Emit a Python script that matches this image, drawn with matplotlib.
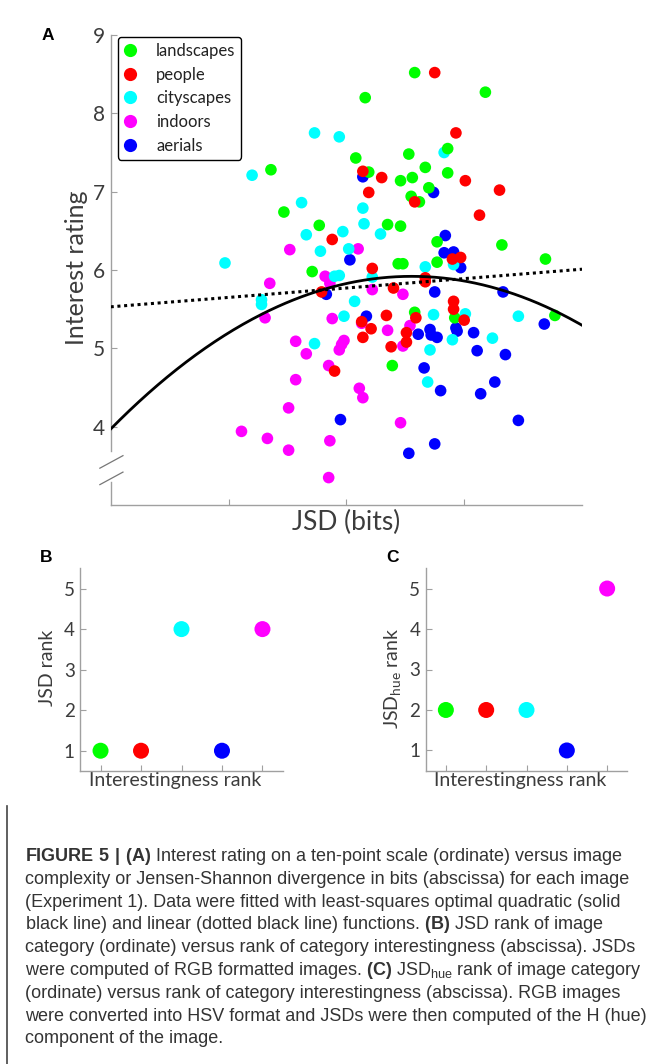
import numpy as np
import matplotlib
matplotlib.use('Agg')
import matplotlib.pyplot as plt
from matplotlib.lines import Line2D

plt.rcParams['font.family'] = ['Lato', 'DejaVu Sans']
plt.rcParams['mathtext.fontset'] = 'custom'
plt.rcParams['mathtext.rm'] = 'Liberation Sans'
plt.rcParams['mathtext.bf'] = 'Liberation Sans:bold'

# ---- panel A data (x in arbitrary JSD units, y = interest rating)
categories = ['landscapes', 'people', 'cityscapes', 'indoors', 'aerials']
cat_colors = ['#00ff00', '#ff0000', '#00ffff', '#ff00ff', '#0000ff']

land_x = [2.58, 2.16, 3.18, 1.36, 2.08, 2.53, 2.86, 2.67, 2.86, 2.19, 2.56, 2.46, 2.70, 2.55, 2.62,
          1.47, 1.77, 2.35, 2.46, 2.77, 3.32, 3.69, 2.44, 2.48, 2.77, 1.71, 2.58, 2.92, 3.77, 2.39]
land_y = [8.52, 8.20, 8.27, 7.28, 7.43, 7.48, 7.55, 7.31, 7.24, 7.25, 7.18, 7.14, 7.05, 6.94, 6.87,
          6.74, 6.57, 6.58, 6.56, 6.36, 6.32, 6.14, 6.08, 6.08, 6.10, 5.98, 5.46, 5.39, 5.42, 4.78]

people_x = [2.75, 2.93, 2.14, 2.30, 3.01, 2.19, 3.30, 2.58, 3.13, 1.88, 2.90, 2.97, 2.22, 1.79, 2.40,
            2.67, 2.67, 2.91, 2.91, 3.00, 2.13, 2.21, 2.34, 2.59, 2.51, 2.51, 2.14, 2.38, 1.90]
people_y = [8.52, 7.75, 7.26, 7.18, 7.14, 6.99, 7.02, 6.87, 6.70, 6.39, 6.14, 6.16, 6.02, 5.72, 5.77,
            5.90, 5.85, 5.60, 5.50, 5.36, 5.34, 5.25, 5.42, 5.39, 5.20, 5.08, 5.14, 5.02, 4.71]

city_x = [1.73, 1.94, 1.20, 2.83, 1.62, 2.14, 2.15, 1.97, 1.66, 2.29, 1.78, 2.02, 0.97, 2.67, 2.91,
          1.90, 1.94, 2.22, 1.28, 1.28, 2.07, 2.74, 3.01, 3.46, 1.98, 3.24, 2.90, 2.71, 1.73, 2.69]
city_y = [7.75, 7.70, 7.21, 7.50, 6.86, 6.79, 6.59, 6.49, 6.45, 6.46, 6.24, 6.27, 6.09, 6.04, 6.07,
          5.92, 5.93, 5.91, 5.62, 5.56, 5.60, 5.43, 5.44, 5.41, 5.41, 5.13, 5.11, 4.98, 5.06, 4.57]

indoor_x = [1.52, 2.10, 1.82, 1.86, 1.35, 2.22, 2.48, 1.31, 1.88, 2.13, 2.35, 2.54, 2.48, 1.57, 1.66,
            1.98, 1.94, 1.96, 1.85, 1.57, 2.11, 2.14, 1.51, 2.46, 1.11, 1.33, 1.51, 1.86, 1.85]
indoor_y = [6.26, 6.27, 5.92, 5.83, 5.83, 5.75, 5.69, 5.39, 5.38, 5.32, 5.23, 5.29, 5.03, 5.09, 4.93,
            5.10, 4.98, 5.05, 4.78, 4.60, 4.49, 4.37, 4.24, 4.05, 3.94, 3.85, 3.70, 3.82, 3.35]

aerial_x = [2.14, 2.74, 2.84, 2.83, 2.91, 2.03, 2.97, 1.83, 2.75, 3.33, 3.68, 2.17, 2.61, 2.71, 2.72,
            2.77, 2.93, 2.94, 3.08, 3.11, 3.35, 2.66, 3.26, 2.80, 3.14, 1.95, 3.46, 2.53, 2.75]
aerial_y = [7.19, 6.99, 6.44, 6.22, 6.23, 6.13, 6.03, 5.69, 5.72, 5.72, 5.31, 5.41, 5.18, 5.24, 5.17,
            5.14, 5.26, 5.22, 5.20, 4.97, 4.92, 4.75, 4.57, 4.46, 4.42, 4.09, 4.08, 3.66, 3.78]

# fitted curves, coefficients (c0 + c1*x + c2*x^2)
quad_coef = [3.97, 1.526, -0.2987]
lin_coef = [5.53, 0.12]

# ---- panels B and C
interest_rank = [1, 2, 3, 4, 5]
rank_colors = ['#00ff00', '#ff0000', '#00ffff', '#0000ff', '#ff00ff']
jsd_rank = [1, 1, 4, 1, 4]
jsd_hue_rank = [2, 2, 2, 1, 5]

caption = [
    r'$\mathbf{FIGURE\ 5\ |\ (A)}$ Interest rating on a ten-point scale (ordinate) versus image',
    'complexity or Jensen-Shannon divergence in bits (abscissa) for each image',
    '(Experiment 1). Data were fitted with least-squares optimal quadratic (solid',
    r'black line) and linear (dotted black line) functions. $\mathbf{(B)}$ JSD rank of image',
    'category (ordinate) versus rank of category interestingness (abscissa). JSDs',
    r'were computed of RGB formatted images. $\mathbf{(C)}$ JSD$_{\rm hue}$ rank of image category',
    '(ordinate) versus rank of category interestingness (abscissa). RGB images',
    'were converted into HSV format and JSDs were then computed of the H (hue)',
    'component of the image.',
]

W, H = 657, 1064
spine_c = '#a0a0a0'
lab_c = '#3c3c3c'


def box(l, t, r, b):
    return [l / W, 1 - b / H, (r - l) / W, (b - t) / H]


def style(ax, lsize):
    for s in ['top', 'right']:
        ax.spines[s].set_visible(False)
    for s in ['left', 'bottom']:
        ax.spines[s].set_color(spine_c)
        ax.spines[s].set_linewidth(1.0)
    ax.tick_params(direction='in', length=4, width=0.8, color=spine_c,
                   labelcolor=lab_c, labelsize=lsize, pad=4)


fig = plt.figure(figsize=(W / 100, H / 100), dpi=100)

# ---------------- panel A
ax = fig.add_axes(box(110.7, 35, 582, 505))
style(ax, 15)
xs = [aerial_x, indoor_x, city_x, land_x, people_x]
ys = [aerial_y, indoor_y, city_y, land_y, people_y]
cols = ['#0000ff', '#ff00ff', '#00ffff', '#00ff00', '#ff0000']
for x, y, c in zip(xs, ys, cols):
    ax.scatter(x, y, s=70, color=c, edgecolors='none', zorder=2)

xx = np.linspace(0, 4, 300)
ax.plot(xx, quad_coef[0] + quad_coef[1] * xx + quad_coef[2] * xx ** 2,
        color='black', lw=2.0, zorder=3)
ax.plot(xx, lin_coef[0] + lin_coef[1] * xx, color='black', lw=2.2,
        linestyle=(0, (1, 1.2)), zorder=3)

ax.set_xlim(0, 4)
ax.set_ylim(3, 9)
ax.set_xticks([1, 2, 3])
ax.set_xticklabels([])
ax.set_yticks([4, 5, 6, 7, 8, 9])

# broken y axis
ax.spines['left'].set_visible(False)
ytr = ax.get_yaxis_transform()
ax.plot([0, 0], [3.69, 9], color=spine_c, lw=1.0, transform=ytr, clip_on=False)
ax.plot([0, 0], [3.0, 3.30], color=spine_c, lw=1.0, transform=ytr, clip_on=False)
for y0 in [3.47, 3.26]:
    ax.plot([-0.023, 0.026], [y0, y0 + 0.16], color='#777777', lw=0.9,
            transform=ytr, clip_on=False)

ax.set_xlabel('JSD (bits)', fontsize=19, color=lab_c)
ax.xaxis.set_label_coords(0.5, -0.038)
ax.xaxis.label.set_va('center')
ax.set_ylabel('Interest rating', fontsize=18, color=lab_c)
ax.yaxis.set_label_coords(-0.072, 0.505)
ax.yaxis.label.set_va('center')

handles = [Line2D([], [], marker='o', ls='none', markersize=9.5,
                  markerfacecolor=c, markeredgecolor='none') for c in cat_colors]
leg = ax.legend(handles, categories, loc='upper left', bbox_to_anchor=(0.0155, 0.996),
                borderaxespad=0, fontsize=12, frameon=True, fancybox=True,
                borderpad=0.36, handlelength=0.72, handletextpad=1.2, labelspacing=0.46)
leg.get_frame().set_edgecolor('black')
leg.get_frame().set_linewidth(1.0)
leg.get_frame().set_alpha(1)
for t in leg.get_texts():
    t.set_color('#222222')

# ---------------- panel B
axb = fig.add_axes(box(80.3, 568.3, 282.7, 771))
style(axb, 13.5)
axb.scatter(interest_rank, jsd_rank, s=133, c=rank_colors, edgecolors='none')
axb.set_xlim(0.5, 5.5)
axb.set_ylim(0.5, 5.5)
axb.set_xticks([1, 2, 3, 4, 5])
axb.set_xticklabels([])
axb.set_yticks([1, 2, 3, 4, 5])
axb.set_xlabel('Interestingness rank', fontsize=14, color=lab_c)
axb.xaxis.set_label_coords(0.468, -0.049)
axb.xaxis.label.set_va('center')
axb.set_ylabel('JSD rank', fontsize=14, color=lab_c)
axb.yaxis.set_label_coords(-0.16, 0.508)
axb.yaxis.label.set_va('center')

# ---------------- panel C
axc = fig.add_axes(box(425.7, 568.3, 627.3, 770.7))
style(axc, 13.5)
axc.scatter(interest_rank, jsd_hue_rank, s=133, c=rank_colors, edgecolors='none')
axc.set_xlim(0.5, 5.5)
axc.set_ylim(0.5, 5.5)
axc.set_xticks([1, 2, 3, 4, 5])
axc.set_xticklabels([])
axc.set_yticks([1, 2, 3, 4, 5])
axc.set_xlabel('Interestingness rank', fontsize=14, color=lab_c)
axc.xaxis.set_label_coords(0.468, -0.048)
axc.xaxis.label.set_va('center')
axc.set_ylabel(r'JSD$\mathregular{_{hue}}$ rank', fontsize=14, color=lab_c)
axc.yaxis.set_label_coords(-0.165, 0.455)
axc.yaxis.label.set_va('center')

# panel letters
for s, (px, py) in zip(['A', 'B', 'C'], [(48, 36), (46, 557), (392.5, 557)]):
    fig.text(px / W, 1 - py / H, s, fontsize=12.5, fontweight='bold',
             family='Liberation Sans', ha='center', va='center')

# ---------------- caption
fig.add_artist(Line2D([7 / W, 7 / W], [0, 1 - 806 / H], color='#444444', lw=1.2))
cap_texts = []
for i, s in enumerate(caption):
    t = fig.text(25 / W, 1 - (861 + 22.8 * i) / H, s, fontsize=12, family='Liberation Sans',
                 color='#333333', ha='left', va='baseline')
    cap_texts.append(t)
rend = fig.canvas.get_renderer()
wid = cap_texts[7].get_window_extent(rend).width
for t in cap_texts:
    t.set_fontsize(12 * 624 / wid)

fig.savefig('out.png', dpi=100)
